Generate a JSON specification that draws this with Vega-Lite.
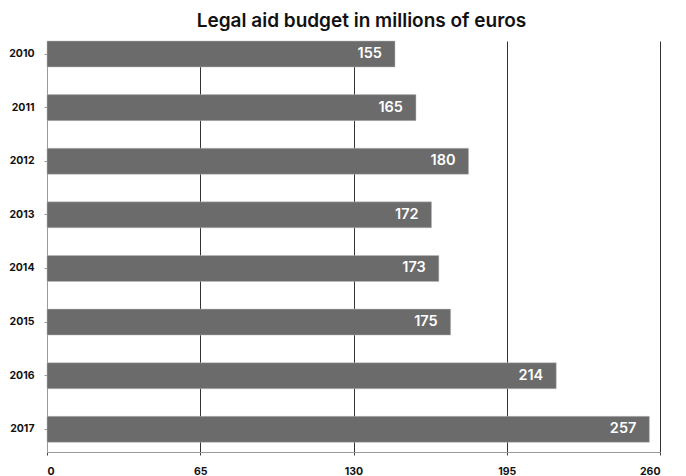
{
  "$schema": "https://vega.github.io/schema/vega-lite/v6.json",
  "autosize": {"type": "none"},
  "padding": {"left": 47, "top": 41, "right": 26, "bottom": 24},
  "width": 613,
  "height": 411,
  "background": "white",
  "title": {
    "text": "Legal aid budget in millions of euros",
    "font": "Inter",
    "fontSize": 19,
    "fontWeight": 600,
    "color": "#111111",
    "anchor": "middle",
    "dx": 8,
    "offset": 10
  },
  "data": {
    "values": [
      {"year": "2010", "bar": 147.6, "label": "155"},
      {"year": "2011", "bar": 156.5, "label": "165"},
      {"year": "2012", "bar": 178.8, "label": "180"},
      {"year": "2013", "bar": 163.1, "label": "172"},
      {"year": "2014", "bar": 166.2, "label": "173"},
      {"year": "2015", "bar": 171.2, "label": "175"},
      {"year": "2016", "bar": 216.0, "label": "214"},
      {"year": "2017", "bar": 255.5, "label": "257"}
    ]
  },
  "encoding": {
    "y": {
      "field": "year",
      "type": "ordinal",
      "sort": null,
      "title": null,
      "scale": {"paddingInner": 0.515, "paddingOuter": 0.09, "align": 0},
      "axis": {
        "labelFont": "Inter",
        "labelFontSize": 10.5,
        "labelFontWeight": 700,
        "labelColor": "#111111",
        "labelPadding": 10,
        "tickSize": 3,
        "tickColor": "#999999",
        "domainColor": "#999999",
        "grid": false
      }
    },
    "x": {
      "field": "bar",
      "type": "quantitative",
      "title": null,
      "scale": {"domain": [0, 260], "nice": false},
      "axis": {
        "values": [0, 65, 130, 195, 260],
        "labelFont": "Inter",
        "labelFontSize": 10.5,
        "labelFontWeight": 700,
        "labelColor": "#111111",
        "labelPadding": 11,
        "tickSize": 3,
        "tickColor": "#444444",
        "domainColor": "#999999",
        "grid": true,
        "gridColor": {"condition": {"test": "datum.value === 0", "value": "transparent"}, "value": "#333333"},
        "gridOpacity": 1,
        "gridWidth": 1
      }
    }
  },
  "layer": [
    {"mark": {"type": "bar", "color": "#6b6b6b", "stroke": "#bdbdbd", "strokeWidth": 0.5}},
    {
      "mark": {"type": "text", "align": "right", "baseline": "middle", "dx": -13, "color": "white", "font": "Inter", "fontSize": 14.5, "fontWeight": 600},
      "encoding": {"text": {"field": "label"}}
    }
  ],
  "config": {"view": {"stroke": null}}
}
